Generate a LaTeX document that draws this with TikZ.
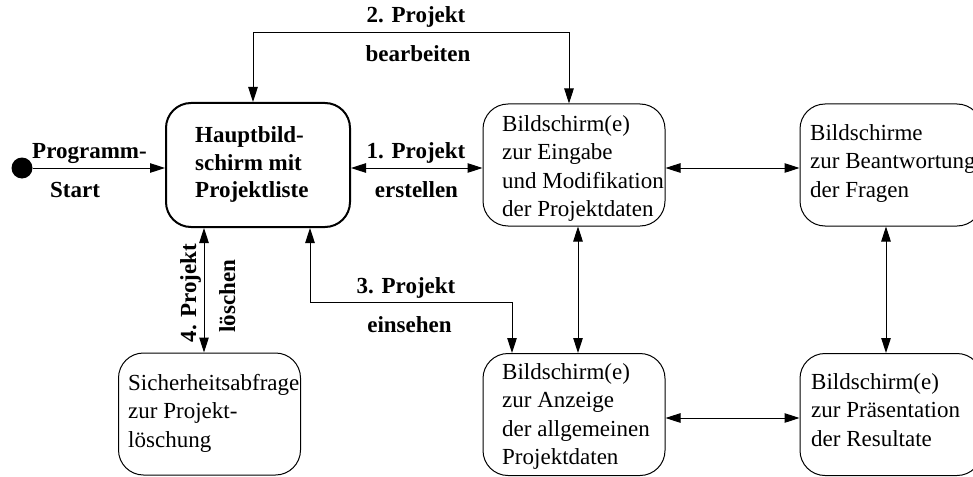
\documentclass[tikz,border=0pt]{standalone}
\usepackage{fontspec}
\setmainfont{Liberation Serif}
\usetikzlibrary{arrows.meta}
\begin{document}
\begin{tikzpicture}[x=1pt,y=-1pt,
  box/.style={draw, line width=1pt, rounded corners=25pt, minimum width=182pt, minimum height=122pt, inner sep=0pt},
  mainbox/.style={box, line width=2pt, minimum width=184pt, minimum height=124pt},
  txt/.style={align=left, inner sep=0pt, anchor=north west, font=\fontsize{23}{28.5}\selectfont},
  boldtxt/.style={txt, font=\fontsize{23}{27.5}\selectfont\bfseries},
  lbl/.style={inner sep=0pt, anchor=base, font=\fontsize{23}{28.5}\selectfont\bfseries},
  tip/.tip={Triangle[length=15pt,width=9.5pt]},
  dbl/.style={tip-tip, line width=1pt},
  arr/.style={-tip, line width=1pt}]
\clip (0,0) rectangle (973,476);
% boxes
\node[mainbox] (main) at (258,165) {};
\node[box] (b2) at (574,165) {};
\node[box] (b3) at (891,165) {};
\node[box] (b4) at (209.5,414) {};
\node[box] (b5) at (574,414.5) {};
\node[box] (b6) at (891,414.5) {};
\node[circle, fill, minimum size=21pt, inner sep=0pt] (start) at (22,168) {};
% box texts
\node[boldtxt] (t1) at (195,126.5) {Hauptbild-\\schirm mit\\Projektliste};
\node[txt] (t2) at (502,115) {Bildschirm(e)\\zur Eingabe\\und Modifikation\\der Projektdaten};
\node[txt] (t3) at (810,124) {Bildschirme\\zur Beantwortung\\der Fragen};
\node[txt] (t4) at (128,374) {Sicherheitsabfrage\\zur Projekt-\\löschung};
\node[txt] (t5) at (502,363) {Bildschirm(e)\\zur Anzeige\\der allgemeinen\\Projektdaten};
\node[txt] (t6) at (811,373) {Bildschirm(e)\\zur Präsentation\\der Resultate};
% helper coordinates
\coordinate (k2l) at (253,33);
\coordinate (k2r) at (569,33);
\coordinate (k3l) at (310,302);
\coordinate (k3r) at (512,302);
\coordinate (k4) at (204,0);
\coordinate (k5) at (578,0);
\coordinate (k6) at (886,0);
\coordinate (h1) at (0,168);
\coordinate (h2) at (0,418);
% connectors
\draw[arr] (start.east) -- (start.east -| main.west);
\draw[dbl] (main.east |- h1) -- (b2.west |- h1);
\draw[dbl] (b2.east |- h1) -- (b3.west |- h1);
\draw[dbl] (main.north -| k2l) -- (k2l) -- (k2r) -- (b2.north -| k2r);
\draw[dbl] (main.south -| k3l) -- (k3l) -- (k3r) -- (b5.north -| k3r);
\draw[dbl] (main.south -| k4) -- (b4.north -| k4);
\draw[dbl] (b2.south -| k5) -- (b5.north -| k5);
\draw[dbl] (b3.south -| k6) -- (b6.north -| k6);
\draw[dbl] (b5.east |- h2) -- (b6.west |- h2);
% labels
\node[lbl] (l0a) at (89.5,158) {Programm-};
\node[lbl] (l0b) at (75,197) {Start};
\node[lbl] (l1a) at (416,158) {1. Projekt};
\node[lbl] (l1b) at (416.5,197) {erstellen};
\node[lbl] (l2a) at (416,23) {2. Projekt};
\node[lbl] (l2b) at (418,62) {bearbeiten};
\node[lbl] (l3a) at (406,293) {3. Projekt};
\node[lbl] (l3b) at (409.5,332) {einsehen};
\node[lbl, rotate=90] (l4a) at (196,293) {4. Projekt};
\node[lbl, rotate=90] (l4b) at (235,296) {löschen};
\end{tikzpicture}
\end{document}
